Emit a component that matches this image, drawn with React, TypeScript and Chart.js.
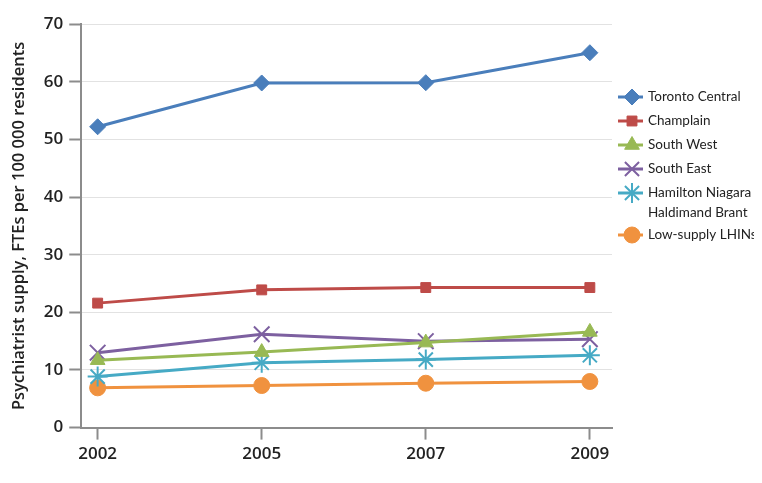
import React, { useEffect, useRef } from "react";
import { Chart, registerables } from "chart.js";
import { drawPoint } from "chart.js/helpers";
Chart.register(...registerables);

const years = ["2002", "2005", "2007", "2009"];
const seriesNames: (string | string[])[] = [
  "Toronto Central",
  "Champlain",
  "South West",
  "South East",
  ["Hamilton Niagara", "Haldimand Brant"],
  "Low-supply LHINs",
];
const torontoCentral = [52.2, 59.8, 59.85, 65.05];
const champlain = [21.6, 23.9, 24.3, 24.3];
const southWest = [11.7, 13.1, 14.75, 16.6];
const southEast = [13.0, 16.2, 15.0, 15.35];
const hamiltonNiagara = [8.85, 11.25, 11.8, 12.55];
const lowSupply = [6.9, 7.3, 7.7, 8.0];
const yTickValues = [0, 10, 20, 30, 40, 50, 60, 70];
const yTitle = "Psychiatrist supply, FTEs per 100 000 residents";

const seriesValues = [torontoCentral, champlain, southWest, southEast, hamiltonNiagara, lowSupply];
const colors = ["#4a7ebb", "#be4b48", "#98b954", "#7d60a0", "#46aac5", "#f0923f"];
const styles = ["rectRot", "rect", "triangle", "crossRot", "star", "circle"];
const radii = [8, 7, 8.5, 11, 10, 8];

const FONT = "Lato, 'Open Sans', sans-serif";
const AXIS_FONT = "'Open Sans', Lato, sans-serif";

const legendPlugin = {
  id: "customLegend",
  afterDraw(chart: any) {
    const ctx = chart.ctx;
    const x0 = chart.chartArea.right + 6;
    let y = 89;
    ctx.save();
    chart.data.datasets.forEach((ds: any) => {
      const lines: string[] = Array.isArray(ds.label) ? ds.label : [ds.label];
      ctx.strokeStyle = ds.borderColor;
      ctx.lineWidth = 3;
      ctx.beginPath();
      ctx.moveTo(x0, y);
      ctx.lineTo(x0 + 25, y);
      ctx.stroke();
      ctx.fillStyle = ds.backgroundColor;
      ctx.strokeStyle = ds.borderColor;
      ctx.lineWidth = ds.pointBorderWidth;
      const r = ds.pointStyle === "crossRot" || ds.pointStyle === "star" ? 10 : ds.pointRadius;
      drawPoint(
        ctx,
        { pointStyle: ds.pointStyle, rotation: 0, radius: r, borderWidth: ds.pointBorderWidth },
        x0 + 14,
        y
      );
      ctx.fillStyle = "#222";
      ctx.font = `13.5px ${FONT}`;
      ctx.textBaseline = "middle";
      ctx.textAlign = "left";
      lines.forEach((t, k) => {
        ctx.fillText(t, x0 + 30, y + k * 20);
      });
      y += 24 + (lines.length - 1) * 18;
    });
    ctx.restore();
  },
};

export default function App() {
  const ref = useRef<HTMLCanvasElement>(null);
  useEffect(() => {
    if (!ref.current) return;
    const datasets = seriesValues.map((vals, i) => ({
      label: seriesNames[i] as any,
      data: vals.map((v, j) => ({ x: j, y: v })),
      borderColor: colors[i],
      backgroundColor: colors[i],
      borderWidth: 3,
      pointStyle: styles[i],
      pointRadius: radii[i],
      pointBorderWidth: styles[i] === "crossRot" || styles[i] === "star" ? 2 : 1,
      pointBackgroundColor: colors[i],
      pointBorderColor: colors[i],
      tension: 0,
    }));
    const chart = new Chart(ref.current, {
      type: "line",
      data: { datasets },
      plugins: [legendPlugin],
      options: {
        animation: false,
        responsive: true,
        maintainAspectRatio: false,
        layout: { padding: { top: 13, right: 150, bottom: 7, left: 0 } },
        plugins: { legend: { display: false }, tooltip: { enabled: false } },
        scales: {
          x: {
            type: "linear",
            min: -0.1,
            max: 3.135,
            afterBuildTicks: (scale: any) => {
              scale.ticks = years.map((_, i) => ({ value: i }));
            },
            ticks: {
              callback: (v: any) => years[v as number],
              font: { family: AXIS_FONT, size: 17, weight: 600 },
              color: "#222",
              padding: 4,
              maxRotation: 0,
            },
            grid: {
              drawOnChartArea: false,
              drawTicks: true,
              tickLength: 12,
              tickColor: "#8c8c8c",
              tickWidth: 2,
            },
            border: { color: "#8c8c8c", width: 2 },
          },
          y: {
            min: 0,
            max: 70,
            afterBuildTicks: (scale: any) => {
              scale.ticks = yTickValues.map((v) => ({ value: v }));
            },
            ticks: {
              font: { family: AXIS_FONT, size: 17, weight: 600 },
              color: "#222",
              padding: 6,
            },
            grid: {
              color: "#e2e2e2",
              lineWidth: 1,
              tickLength: 12,
              tickColor: "#8c8c8c",
              tickWidth: 2,
            },
            border: { color: "#8c8c8c", width: 2 },
            title: {
              display: true,
              text: yTitle,
              font: { family: AXIS_FONT, size: 16.5, weight: 600 },
              color: "#222",
              padding: { top: 1, bottom: 9 },
            },
          },
        },
      },
    });
    return () => chart.destroy();
  }, []);
  return (
    <div style={{ width: 754, height: 467, position: "relative" }}>
      <canvas ref={ref} style={{ display: "block" }} />
    </div>
  );
}
